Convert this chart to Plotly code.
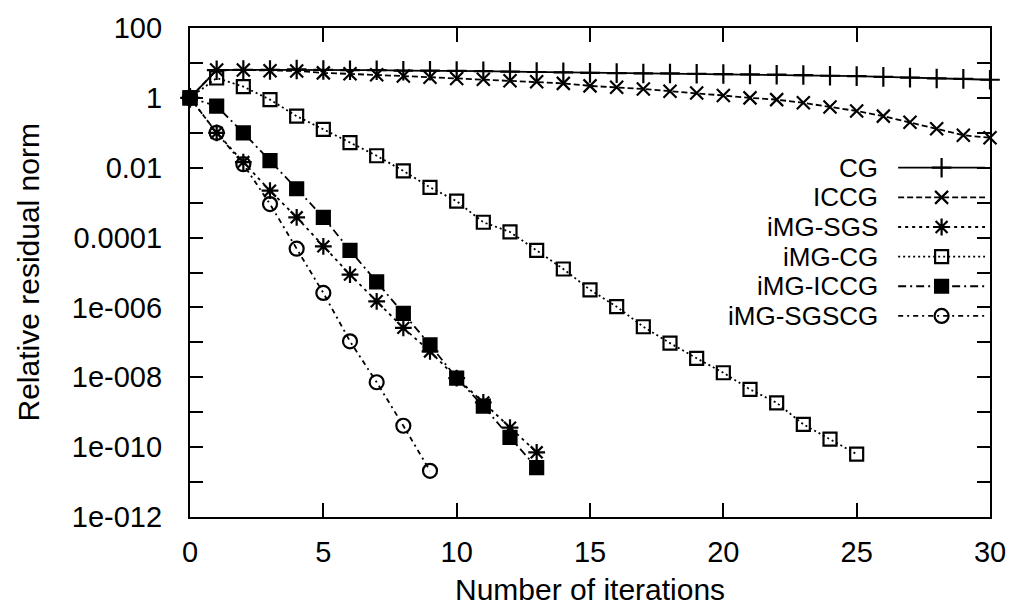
import plotly.graph_objects as go

# ---------------- data ----------------
iters_cg = list(range(0, 31))
cg = [1, 6.2, 6.3, 6.3, 6.5, 6.3, 6.2, 6.2, 6.0, 6.0, 5.9, 5.8, 5.6, 5.5, 5.4, 5.2,
      5.1, 5.0, 5.0, 4.9, 4.8, 4.7, 4.6, 4.5, 4.3, 4.2, 4.0, 3.8, 3.6, 3.5, 3.3]

iters_iccg = list(range(0, 31))
iccg = [1, 6.3, 6.3, 6.0, 5.9, 5.2, 4.9, 4.6, 4.2, 3.9, 3.6, 3.4, 3.1, 2.9, 2.6, 2.2,
        2.0, 1.8, 1.55, 1.38, 1.17, 1.0, 0.89, 0.72, 0.55, 0.42, 0.30, 0.20, 0.13, 0.085, 0.072]

iters_sgs = list(range(0, 14))
img_sgs = [1, 0.1, 1.45e-2, 2.2e-3, 3.8e-4, 5.6e-5, 8.7e-6, 1.5e-6, 2.6e-7, 5.5e-8,
           9.5e-9, 1.9e-9, 3.6e-10, 7.1e-11]

iters_imgcg = list(range(0, 26))
img_cg = [1, 3.7, 2.1, 0.89, 0.30, 0.126, 0.052, 0.022, 8.1e-3, 2.75e-3, 1.1e-3,
          2.75e-4, 1.45e-4, 4.3e-5, 1.26e-5, 3.2e-6, 1.05e-6, 2.8e-7, 9.5e-8, 3.5e-8,
          1.35e-8, 4.5e-9, 1.86e-9, 4.5e-10, 1.7e-10, 6.3e-11]

iters_imgiccg = list(range(0, 14))
img_iccg = [1, 0.58, 0.1, 1.6e-2, 2.5e-3, 3.8e-4, 4.3e-5, 5.4e-6, 6.8e-7, 8.5e-8,
            9.5e-9, 1.5e-9, 1.9e-10, 2.6e-11]

iters_sgscg = list(range(0, 10))
img_sgscg = [1, 0.1, 1.26e-2, 9.1e-4, 4.8e-5, 2.6e-6, 1.07e-7, 7.2e-9, 4.1e-10, 2.1e-11]

y_tickvals = [1e2, 1e1, 1e0, 1e-1, 1e-2, 1e-3, 1e-4, 1e-5, 1e-6, 1e-7, 1e-8, 1e-9,
              1e-10, 1e-11, 1e-12]
y_ticktext = ["100", "", "1", "", "0.01", "", "0.0001", "", "1e-006", "", "1e-008", "",
              "1e-010", "", "1e-012"]
x_tickvals = [0, 5, 10, 15, 20, 25, 30]

# ---------------- styles ----------------
FONT = "Liberation Sans, Arial, sans-serif"
FS_TICK = 29
FS_TITLE = 30
FS_LEG = 26
series = [
    ("CG", iters_cg, cg, "solid", "cross-thin-open", 14),
    ("ICCG", iters_iccg, iccg, "6px,3px", "x-thin-open", 13),
    ("iMG-SGS", iters_sgs, img_sgs, "3px,4px", "asterisk-open", 14),
    ("iMG-CG", iters_imgcg, img_cg, "2px,3px", "square-open", 13),
    ("iMG-ICCG", iters_imgiccg, img_iccg, "8px,4px,2px,4px", "square", 13),
    ("iMG-SGSCG", iters_sgscg, img_sgscg, "5px,4px,2px,4px", "circle-open", 14),
]

fig = go.Figure()
for name, xs, ys, dash, sym, size in series:
    fig.add_trace(go.Scatter(
        x=xs, y=ys, mode="lines+markers", name=name, showlegend=False,
        cliponaxis=False,
        line=dict(color="black", width=1.8, dash=dash),
        marker=dict(symbol=sym, size=size, color="black",
                    line=dict(color="black", width=2.2)),
    ))

# ---------------- custom legend (text left, sample right) ----------------
leg_top = 167
leg_step = 29.7
for i, (name, xs, ys, dash, sym, size) in enumerate(series):
    yy = leg_top + i * leg_step
    fig.add_trace(go.Scatter(
        x=[907, 995], y=[yy, yy], xaxis="x2", yaxis="y2", mode="lines",
        showlegend=False, hoverinfo="skip", cliponaxis=False,
        line=dict(color="black", width=1.8, dash=dash)))
    fig.add_trace(go.Scatter(
        x=[951], y=[yy], xaxis="x2", yaxis="y2", mode="markers",
        showlegend=False, hoverinfo="skip", cliponaxis=False,
        marker=dict(symbol=sym, size=size, color="black",
                    line=dict(color="black", width=2.2))))
    fig.add_annotation(x=888, y=yy, xref="x2", yref="y2", text=name,
                       showarrow=False, xanchor="right", yanchor="middle",
                       borderpad=0,
                       font=dict(family=FONT, size=FS_LEG, color="black"))

# axis titles (paper coordinates relative to the plot area)
fig.add_annotation(x=-0.2025, y=0.5, xref="paper", yref="paper",
                   text="Relative residual norm", textangle=-90, showarrow=False,
                   xanchor="center", yanchor="middle",
                   font=dict(family=FONT, size=FS_TITLE, color="black"))
fig.add_annotation(x=0.5, y=-0.149, xref="paper", yref="paper",
                   text="Number of iterations", showarrow=False,
                   xanchor="center", yanchor="middle", borderpad=0,
                   font=dict(family=FONT, size=FS_TITLE, color="black"))

axis_common = dict(showgrid=False, zeroline=False, showline=True, linecolor="black",
                   linewidth=2.2, ticks="inside", tickcolor="black", tickwidth=2,
                   mirror="ticks",
                   tickfont=dict(family=FONT, size=FS_TICK, color="black"))

fig.update_layout(
    width=1018, height=608,
    margin=dict(l=190, r=18, t=27, b=91),
    paper_bgcolor="white", plot_bgcolor="white",
    xaxis=dict(range=[0, 30], tickmode="array", tickvals=x_tickvals, ticklen=14,
               ticklabelstandoff=8, **axis_common),
    yaxis=dict(type="log", range=[-12, 2], tickmode="array", tickvals=y_tickvals,
               ticktext=y_ticktext, ticklen=13, ticklabelstandoff=20, **axis_common),
    xaxis2=dict(overlaying="x", range=[190, 1000], visible=False, fixedrange=True),
    yaxis2=dict(overlaying="y", range=[517, 27], visible=False, fixedrange=True),
    showlegend=False,
)

# remove the browser's default page margin so the figure fills the window exactly
fig.write_html(
    "out.html",
    config={"displayModeBar": False},
    post_script="document.body.style.margin='0';document.body.style.overflow='hidden';",
)
